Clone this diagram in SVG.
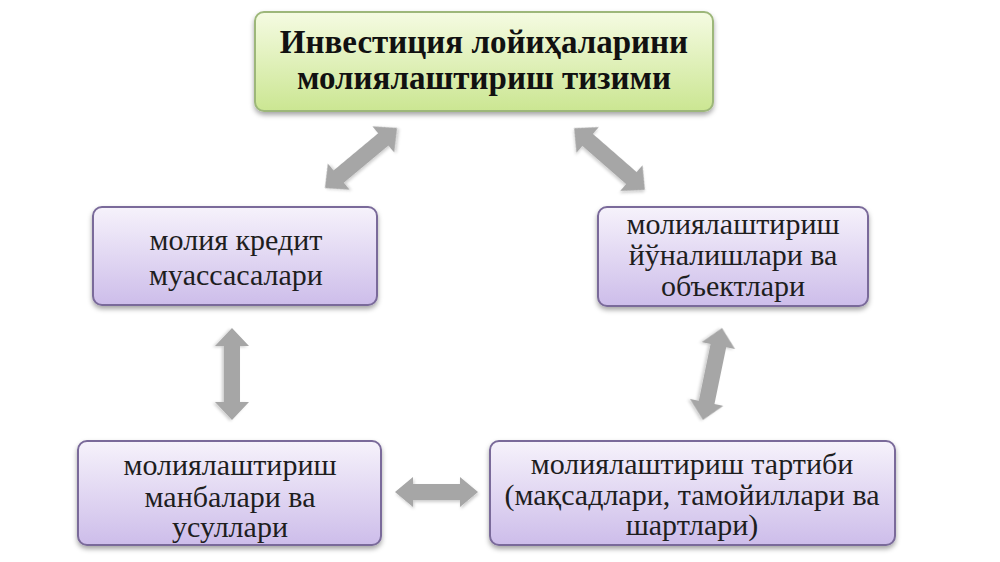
<svg xmlns="http://www.w3.org/2000/svg" width="1000" height="562" viewBox="0 0 1000 562">
<defs>
<linearGradient id="gGreen" x1="0" y1="0" x2="0" y2="1">
<stop offset="0" stop-color="#f5fbe2"/>
<stop offset="1" stop-color="#cbe692"/>
</linearGradient>
<linearGradient id="gLav" x1="0" y1="0" x2="0" y2="1">
<stop offset="0" stop-color="#f6f2fb"/>
<stop offset="1" stop-color="#cdbdea"/>
</linearGradient>
<filter id="sh" x="-10%" y="-10%" width="120%" height="130%">
<feDropShadow dx="0" dy="3" stdDeviation="2.5" flood-color="#000" flood-opacity="0.35"/>
</filter>
<filter id="ash" x="-20%" y="-20%" width="140%" height="140%">
<feDropShadow dx="1" dy="2" stdDeviation="1.5" flood-color="#000" flood-opacity="0.2"/>
</filter>
</defs>
<style>
.green{fill:url(#gGreen);stroke:#9db77a;stroke-width:2;filter:url(#sh)}
.lav{fill:url(#gLav);stroke:#7a6a9a;stroke-width:2;filter:url(#sh)}
.t{font-size:30px;fill:#1e1e1e;text-anchor:middle}
.tt{font-size:33px;font-weight:bold;fill:#111;text-anchor:middle}
.arr{fill:#a6a6a6;filter:url(#ash)}
</style>
<rect width="1000" height="562" fill="#ffffff"/>
<g id="connectors">
<path class="arr" transform="translate(361,158) rotate(-39.8)" d="M-47,0 L-29,-17 L-29,-8 L29,-8 L29,-17 L47,0 L29,17 L29,8 L-29,8 L-29,17 Z"/>
<path class="arr" transform="translate(609.5,159) rotate(41.1)" d="M-47,0 L-29,-17 L-29,-8 L29,-8 L29,-17 L47,0 L29,17 L29,8 L-29,8 L-29,17 Z"/>
<path class="arr" transform="translate(232,374) rotate(90)" d="M-46,0 L-28,-17 L-28,-8 L28,-8 L28,-17 L46,0 L28,17 L28,8 L-28,8 L-28,17 Z"/>
<path class="arr" transform="translate(712.5,374) rotate(101.7)" d="M-47,0 L-29,-17 L-29,-8 L29,-8 L29,-17 L47,0 L29,17 L29,8 L-29,8 L-29,17 Z"/>
<path class="arr" transform="translate(436.5,492)" d="M-41.5,0 L-23.5,-15 L-23.5,-8 L23.5,-8 L23.5,-15 L41.5,0 L23.5,15 L23.5,8 L-23.5,8 L-23.5,15 Z"/>
</g>
<g id="top" font-family="Liberation Serif, DejaVu Serif, serif">
<rect class="green" x="255" y="12" width="458" height="99" rx="9"/>
<text class="tt" x="484" y="53">Инвестиция лойиҳаларини</text>
<text class="tt" x="484" y="89">молиялаштириш  тизими</text>
</g>
<g id="left" font-family="Liberation Serif, DejaVu Serif, serif">
<rect class="lav" x="93" y="207" width="284" height="98" rx="9"/>
<text class="t" x="236" y="250">молия кредит</text>
<text class="t" x="236" y="285">муассасалари</text>
</g>
<g id="right" font-family="Liberation Serif, DejaVu Serif, serif">
<rect class="lav" x="598" y="207" width="270" height="99" rx="9"/>
<text class="t" x="733" y="234">молиялаштириш</text>
<text class="t" x="733" y="265">йўналишлари ва</text>
<text class="t" x="733" y="296">объектлари</text>
</g>
<g id="bottomLeft" font-family="Liberation Serif, DejaVu Serif, serif">
<rect class="lav" x="78" y="441" width="303" height="104" rx="9"/>
<text class="t" x="230" y="475">молиялаштириш</text>
<text class="t" x="230" y="507">манбалари ва</text>
<text class="t" x="230" y="537">усуллари</text>
</g>
<g id="bottomRight" font-family="Liberation Serif, DejaVu Serif, serif">
<rect class="lav" x="490" y="441" width="405" height="104" rx="9"/>
<text class="t" x="692" y="474">молиялаштириш тартиби</text>
<text class="t" x="692" y="505">(мақсадлари, тамойиллари ва</text>
<text class="t" x="692" y="535">шартлари)</text>
</g>
</svg>
